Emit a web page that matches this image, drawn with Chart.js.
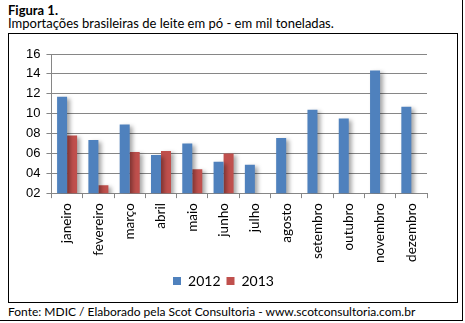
<!DOCTYPE html>
<html>
<head>
<meta charset="utf-8">
<script src="https://cdn.jsdelivr.net/npm/chart.js@4.4.1/dist/chart.umd.min.js"></script>
<style>
  html, body { margin: 0; padding: 0; background: #fff; }
  #frame {
    position: absolute; left: 0; top: 0; width: 462px; height: 320px;
    border-right: 1px solid #000; border-bottom: 1px solid #000;
  }
  .txt { position: absolute; left: 8px; font-family: Lato, sans-serif; font-size: 13px; color: #000; white-space: nowrap; }
  #fig { top: 2px; font-weight: bold; }
  #sub { top: 15px; }
  #src { top: 304px; font-size: 12px; }
  #box {
    position: absolute; left: 8px; top: 33px; width: 448px; height: 268px;
    border: 1px solid #000;
  }
</style>
</head>
<body>
<div id="frame"></div>
<div class="txt" id="fig">Figura 1.</div>
<div class="txt" id="sub">Importações brasileiras de leite em pó - em mil toneladas.</div>
<div id="box"><canvas id="chart" width="448" height="268"></canvas></div>
<div class="txt" id="src">Fonte: MDIC / Elaborado pela Scot Consultoria - www.scotconsultoria.com.br</div>
<script>
const months = ['janeiro', 'fevereiro', 'março', 'abril', 'maio', 'junho', 'julho',
  'agosto', 'setembro', 'outubro', 'novembro', 'dezembro'];
const values2012 = [11.7, 7.35, 8.9, 5.85, 7.0, 5.15, 4.85, 7.55, 10.4, 9.5, 14.35, 10.7];
const values2013 = [7.8, 2.8, 6.15, 6.25, 4.4, 6.0, null, null, null, null, null, null];
const yTickLabels = ['02', '04', '06', '08', '10', '12', '14', '16'];

// soft shadow to the right of each bar, like the spreadsheet style
const barShadow = {
  id: 'barShadow',
  beforeDatasetsDraw(chart) {
    const ctx = chart.ctx;
    ctx.save();
    ctx.shadowColor = 'rgba(0,0,0,0.35)';
    ctx.shadowBlur = 4;
    ctx.shadowOffsetX = 3;
    ctx.shadowOffsetY = 2;
  },
  afterDatasetsDraw(chart) {
    chart.ctx.restore();
  }
};

new Chart(document.getElementById('chart'), {
  type: 'bar',
  data: {
    labels: months,
    datasets: [
      { label: '2012', data: values2012, backgroundColor: '#4F81BD' },
      { label: '2013', data: values2013, backgroundColor: '#C0504D' }
    ]
  },
  options: {
    responsive: false,
    animation: false,
    datasets: { bar: { categoryPercentage: 0.64, barPercentage: 1 } },
    layout: { padding: { top: 20, right: 30, left: 11, bottom: 4 } },
    plugins: {
      legend: {
        position: 'bottom',
        labels: {
          boxWidth: 8, boxHeight: 8, padding: 6, color: '#000',
          font: { family: 'Lato', size: 14 }
        }
      },
      tooltip: { enabled: false }
    },
    scales: {
      y: {
        min: 2, max: 16,
        ticks: {
          stepSize: 2, color: '#000', padding: 6,
          font: { family: 'Liberation Sans', size: 13 },
          callback: (v) => yTickLabels[(v - 2) / 2]
        },
        grid: { color: '#868686', lineWidth: 1, tickLength: 5 },
        border: { color: '#868686' }
      },
      x: {
        ticks: {
          minRotation: 90, maxRotation: 90, color: '#000', padding: 5,
          font: { family: 'Lato', size: 13.5 }
        },
        grid: { drawOnChartArea: false, color: '#868686', tickLength: 5 },
        border: { color: '#868686' }
      }
    }
  },
  plugins: [barShadow]
});
</script>
</body>
</html>
